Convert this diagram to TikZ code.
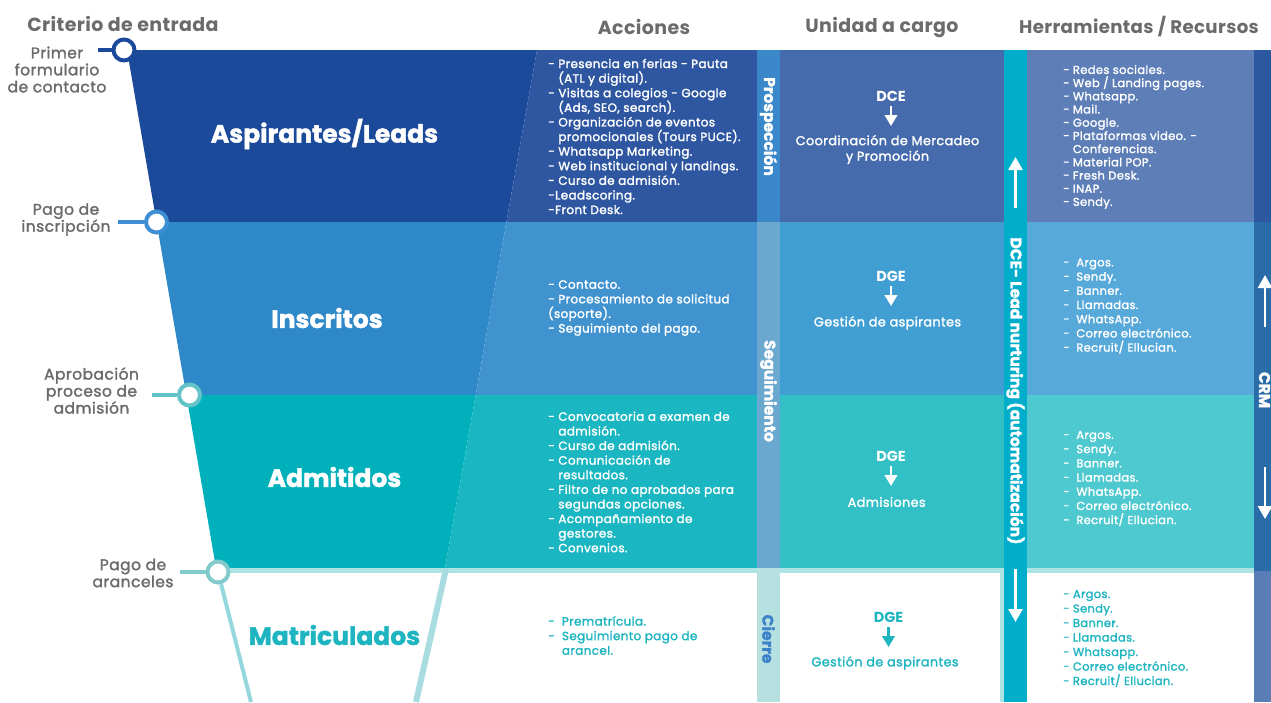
\documentclass[tikz,border=0pt]{standalone}
\usepackage{fontspec}
\setmainfont{Poppins}
\newfontface\medf{Poppins}[FakeBold=1.8, LetterSpace=3]
\newfontfamily\heavyf{Poppins}[BoldFeatures={FakeBold=1.6}]
\newfontfamily\hdrf{Poppins}[LetterSpace=2]
\usetikzlibrary{arrows.meta}
\definecolor{r1f}{HTML}{1C4A9A}
\definecolor{r1a}{HTML}{2F57A1}
\definecolor{r1u}{HTML}{466BAC}
\definecolor{r1h}{HTML}{5D7EB7}
\definecolor{r2f}{HTML}{2F89C9}
\definecolor{r2a}{HTML}{4193D0}
\definecolor{r2u}{HTML}{409ED3}
\definecolor{r2h}{HTML}{57A9DA}
\definecolor{r3f}{HTML}{00B1BB}
\definecolor{r3a}{HTML}{1AB6C1}
\definecolor{r3u}{HTML}{32C0C6}
\definecolor{r3h}{HTML}{4DC9CF}
\definecolor{prospc}{HTML}{3A87C9}
\definecolor{seguic}{HTML}{6BA8CF}
\definecolor{cierrec}{HTML}{B7E0E1}
\definecolor{cierret}{HTML}{3C82C8}
\definecolor{dcec}{HTML}{00ADCB}
\definecolor{crmA}{HTML}{2C58A1}
\definecolor{crmB}{HTML}{2A6CA8}
\definecolor{crmC}{HTML}{5B7DB6}
\definecolor{bandc}{HTML}{AEE3E6}
\definecolor{tealt}{HTML}{1FB5C0}
\definecolor{greyt}{HTML}{6B6B6B}
\definecolor{lA}{HTML}{1C4A9A}
\definecolor{lB}{HTML}{3D8FD2}
\definecolor{lC}{HTML}{63C3C8}
\definecolor{lD}{HTML}{82CACB}
\definecolor{flc}{HTML}{94D7DC}
\definecolor{frc}{HTML}{A8DCE0}
\tikzset{
  smallarr/.style={-{Triangle[width=12.5pt,length=11pt]}, line width=2.2pt, white},
  bigarr/.style={-{Triangle[width=14pt,length=13pt]}, line width=2.8pt, white},
  header/.style={font=\hdrf\bfseries\fontsize{19}{22}\selectfont, text=greyt, inner sep=0},
  crit/.style={font=\medf\fontsize{15.5}{17}\selectfont, text=greyt, align=center, inner sep=0},
  stage/.style={font=\heavyf\bfseries\fontsize{25}{28}\selectfont, text=white, inner sep=0},
  acts/.style={font=\medf\fontsize{12}{14.6}\selectfont, text=white, align=left, anchor=west, inner sep=0},
  tools/.style={font=\medf\fontsize{11.5}{14.2}\selectfont, text=white, align=left, anchor=west, inner sep=0},
  unit/.style={font=\medf\fontsize{12.8}{15.5}\selectfont, text=white, align=center, inner sep=0},
  unitb/.style={font=\bfseries\fontsize{14.5}{16}\selectfont, text=white, inner sep=0},
  vert/.style={rotate=-90, font=\heavyf\bfseries\fontsize{15.5}{17}\selectfont, text=white, inner sep=0},
  ring/.style={circle, line width=4pt, fill=white, minimum size=21pt, inner sep=0},
}
\newcommand{\ind}{\hphantom{- }}
\begin{document}
\begin{tikzpicture}[x=1pt,y=-1pt]
\useasboundingbox (0,0) rectangle (1271,702);
% ---------- row 1 ----------
\fill[r1f] (127,50) -- (537,50) -- (506.4,222) -- (156.5,222) -- cycle;
\fill[r1a] (537,50) -- (757,50) -- (757,222) -- (506.4,222) -- cycle;
\fill[prospc] (757,50) rectangle (780,222);
\fill[r1u] (780,50) rectangle (1004,222);
\fill[r1h] (1027,50) rectangle (1254,222);
% ---------- row 2 ----------
\fill[r2f] (156.5,222) -- (506.4,222) -- (475.7,395) -- (186.3,395) -- cycle;
\fill[r2a] (506.4,222) -- (757,222) -- (757,395) -- (475.7,395) -- cycle;
\fill[r2u] (780,222) rectangle (1004,395);
\fill[r2h] (1027,222) rectangle (1254,395);
% ---------- row 3 ----------
\fill[r3f] (186.3,395) -- (475.7,395) -- (445,568) -- (216,568) -- cycle;
\fill[r3a] (475.7,395) -- (757,395) -- (757,568) -- (445,568) -- cycle;
\fill[r3u] (780,395) rectangle (1004,568);
\fill[r3h] (1027,395) rectangle (1254,568);
\fill[seguic] (757,222) rectangle (780,568);
% ---------- row 4 ----------
\fill[bandc] (216,568) rectangle (757,573);
\fill[bandc] (780,568) rectangle (1004,573);
\fill[bandc] (999.5,573) rectangle (1004,702);
\fill[bandc] (1027,568) rectangle (1254,573);
\fill[cierrec] (757,568) rectangle (780,702);
% ---------- strips ----------
\fill[dcec] (1004,50) rectangle (1027,702);
\fill[crmA] (1254,50) rectangle (1271,222);
\fill[crmB] (1254,222) rectangle (1271,571);
\fill[crmC] (1254,571) rectangle (1271,702);
% ---------- funnel bottom outline ----------
\coordinate (flb) at (251,702);
\coordinate (frt) at (446,569);
\coordinate (frb) at (416,702);
\draw[frc, line width=6pt] (frt) -- (frb);
% ---------- criteria markers ----------
\node[ring, draw=lA] (c1) at (124,50) {};
\node[ring, draw=lB] (c2) at (156.5,222) {};
\node[ring, draw=lC] (c3) at (189.5,395) {};
\node[ring, draw=lD] (c4) at (218,572) {};
\draw[flc, line width=4pt] (c4) -- (flb);
\coordinate (k1) at (98,50);
\coordinate (k2) at (118,222);
\coordinate (k3) at (152,395);
\coordinate (k4) at (180,572);
\draw[lA, line width=3.5pt] (k1) -- (c1);
\draw[lB, line width=3.5pt] (k2) -- (c2);
\draw[lC, line width=3.5pt] (k3) -- (c3);
\draw[lD, line width=3.5pt] (k4) -- (c4);
\node[crit] (t1) at (57,69.5) {Primer\\formulario\\de contacto};
\node[crit] (t2) at (66,219.5) {Pago de\\inscripción};
\node[crit] (t3) at (91.5,390.5) {Aprobación\\proceso de\\admisión};
\node[crit] (t4) at (133,573) {Pago de\\aranceles};
% ---------- headers ----------
\node[header] (hc) at (123,24) {Criterio de entrada};
\node[header] (ha) at (644,27) {Acciones};
\node[header] (hu) at (882,27) {Unidad a cargo};
\node[header, font=\hdrf\bfseries\fontsize{18.2}{22}\selectfont] (hh) at (1139,27) {Herramientas / Recursos};
% ---------- stage names ----------
\node[stage] (s1) at (324.5,134) {Aspirantes/Leads};
\node[stage] (s2) at (327,318) {Inscritos};
\node[stage] (s3) at (334.5,477) {Admitidos};
\node[stage, text=tealt] (s4) at (334.5,635) {Matriculados};
% ---------- actions ----------
\node[acts] (a1) at (548,136.5) {- Presencia en ferias - Pauta\\\ind(ATL y digital).\\- Visitas a colegios - Google\\\ind(Ads, SEO, search).\\- Organización de eventos\\\ind promocionales (Tours PUCE).\\- Whatsapp Marketing.\\- Web institucional y landings.\\- Curso de admisión.\\-Leadscoring.\\-Front Desk.};
\node[acts] (a2) at (548,308) {- Contacto.\\- Procesamiento de solicitud\\(soporte).\\- Seguimiento del pago.};
\node[acts] (a3) at (548,482) {- Convocatoria a examen de\\\ind admisión.\\- Curso de admisión.\\- Comunicación de\\\ind resultados.\\- Filtro de no aprobados para\\\ind segundas opciones.\\- Acompañamiento de\\\ind gestores.\\- Convenios.};
\node[acts, text=tealt] (a4) at (548,635.5) {-\ \ Prematrícula.\\-\ \ Seguimiento pago de\\\hphantom{-\ \ }arancel.};
% ---------- vertical stage strip ----------
\node[vert] (v1) at (768.5,126.5) {Prospección};
\node[vert] (v2) at (768.5,391) {Seguimiento};
\node[vert, text=cierret] (v3) at (768.5,639) {Cierre};
% ---------- units ----------
\node[unitb] (u1a) at (891,96) {DCE};
\coordinate (u1s) at (891,106);
\coordinate (u1e) at (891,126);
\draw[smallarr] (u1s) -- (u1e);
\node[unit] (u1b) at (887.5,149.5) {Coordinación de Mercadeo\\y Promoción};
\node[unitb] (u2a) at (891,276) {DGE};
\coordinate (u2s) at (891,286);
\coordinate (u2e) at (891,306);
\draw[smallarr] (u2s) -- (u2e);
\node[unit] (u2b) at (887.5,323) {Gestión de aspirantes};
\node[unitb] (u3a) at (891,456) {DGE};
\coordinate (u3s) at (891,466);
\coordinate (u3e) at (891,486);
\draw[smallarr] (u3s) -- (u3e);
\node[unit] (u3b) at (886.7,502) {Admisiones};
\node[unitb, text=tealt] (u4a) at (888.5,617) {DGE};
\coordinate (u4s) at (888.5,627);
\coordinate (u4e) at (888.5,647);
\draw[smallarr, tealt] (u4s) -- (u4e);
\node[unit, text=tealt] (u4b) at (885,663) {Gestión de aspirantes};
% ---------- DCE strip ----------
\node[vert] (dcet) at (1015.5,391) {DCE- Lead nurturing (automatización)};
\coordinate (d1s) at (1015.5,208);
\coordinate (d1e) at (1015.5,157);
\draw[bigarr] (d1s) -- (d1e);
\coordinate (d2s) at (1015.5,569);
\coordinate (d2e) at (1015.5,622);
\draw[bigarr] (d2s) -- (d2e);
% ---------- CRM strip ----------
\node[vert] (crmt) at (1264.5,390) {CRM};
\coordinate (m1s) at (1265,327);
\coordinate (m1e) at (1265,275);
\draw[bigarr] (m1s) -- (m1e);
\coordinate (m2s) at (1265,467);
\coordinate (m2e) at (1265,519);
\draw[bigarr] (m2s) -- (m2e);
% ---------- tools ----------
\node[tools, font=\medf\fontsize{11.5}{13.2}\selectfont] (h1) at (1063,137) {- Redes sociales.\\- Web / Landing pages.\\- Whatsapp.\\- Mail.\\- Google.\\- Plataformas video. -\\\ind Conferencias.\\- Material POP.\\- Fresh Desk.\\- INAP.\\- Sendy.};
\node[tools] (h2) at (1063,306) {-\ \ Argos.\\-\ \ Sendy.\\-\ \ Banner.\\-\ \ Llamadas.\\-\ \ WhatsApp.\\-\ \ Correo electrónico.\\-\ \ Recruit/ Ellucian.};
\node[tools] (h3) at (1063,478.5) {-\ \ Argos.\\-\ \ Sendy.\\-\ \ Banner.\\-\ \ Llamadas.\\-\ \ WhatsApp.\\-\ \ Correo electrónico.\\-\ \ Recruit/ Ellucian.};
\node[tools, text=tealt, font=\medf\fontsize{11.5}{14.5}\selectfont] (h4) at (1063,638.5) {- Argos.\\- Sendy.\\- Banner.\\- Llamadas.\\- Whatsapp.\\- Correo electrónico.\\- Recruit/ Ellucian.};
\end{tikzpicture}
\end{document}
